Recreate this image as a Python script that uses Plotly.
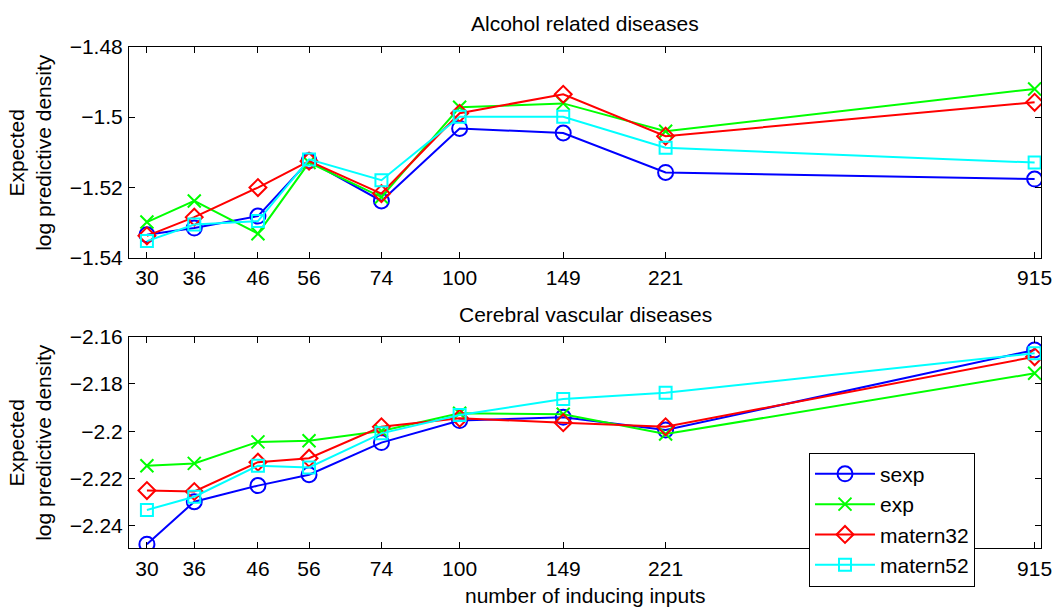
import math
import plotly.graph_objects as go

# ---------------- data ----------------
inducing = [30, 36, 46, 56, 74, 100, 149, 221, 915]
tick_labels_x = ["30", "36", "46", "56", "74", "100", "149", "221", "915"]

series_names = ["sexp", "exp", "matern32", "matern52"]

alcohol_sexp = [-1.5334, -1.5315, -1.5281, -1.5124, -1.5238, -1.5032, -1.5045, -1.5157, -1.5176]
alcohol_exp = [-1.5298, -1.5238, -1.5331, -1.5129, -1.5227, -1.4972, -1.4961, -1.5040, -1.4920]
alcohol_matern32 = [-1.5337, -1.5284, -1.5200, -1.5125, -1.5217, -1.4989, -1.4935, -1.5054, -1.4958]
alcohol_matern52 = [-1.5352, -1.5305, -1.5295, -1.5120, -1.5179, -1.4999, -1.4999, -1.5087, -1.5129]

cerebral_sexp = [-2.2478, -2.2298, -2.2230, -2.2184, -2.2048, -2.1955, -2.1941, -2.1995, -2.1656]
cerebral_exp = [-2.2146, -2.2136, -2.2045, -2.2040, -2.1999, -2.1924, -2.1928, -2.2012, -2.1755]
cerebral_matern32 = [-2.2251, -2.2255, -2.2131, -2.2114, -2.1981, -2.1945, -2.1964, -2.1981, -2.1685]
cerebral_matern52 = [-2.2333, -2.2277, -2.2146, -2.2153, -2.2009, -2.1931, -2.1864, -2.1837, -2.1670]

top_yticks = [-1.54, -1.52, -1.5, -1.48]
top_ytick_labels = ["\u22121.54", "\u22121.52", "\u22121.5", "\u22121.48"]
bottom_yticks = [-2.24, -2.22, -2.2, -2.18, -2.16]
bottom_ytick_labels = ["\u22122.24", "\u22122.22", "\u22122.2", "\u22122.18", "\u22122.16"]

title_top = "Alcohol related diseases"
title_bottom = "Cerebral vascular diseases"
x_title = "number of inducing inputs"
y_title = "Expected<br>log predictive density"

# ---------------- styles ----------------
colors = ["#0000ff", "#00ff00", "#ff0000", "#00ffff"]
symbols = ["circle-open", "x-thin-open", "diamond-open", "square-open"]
sizes = [15, 13, 13, 12]
FONT = "Liberation Sans, Arial, Helvetica, sans-serif"
FS = 21

W, H = 1053, 607

fig = go.Figure()

top_data = [alcohol_sexp, alcohol_exp, alcohol_matern32, alcohol_matern52]
bottom_data = [cerebral_sexp, cerebral_exp, cerebral_matern32, cerebral_matern52]

for i, name in enumerate(series_names):
    fig.add_trace(go.Scatter(
        x=inducing, y=top_data[i], mode="lines+markers", name=name,
        legendgroup=name, showlegend=False,
        line=dict(color=colors[i], width=2),
        marker=dict(symbol=symbols[i], size=sizes[i], color=colors[i],
                    line=dict(color=colors[i], width=2)),
        xaxis="x", yaxis="y"))
for i, name in enumerate(series_names):
    fig.add_trace(go.Scatter(
        x=inducing, y=bottom_data[i], mode="lines+markers", name=name,
        legendgroup=name, showlegend=True,
        line=dict(color=colors[i], width=2),
        marker=dict(symbol=symbols[i], size=sizes[i], color=colors[i],
                    line=dict(color=colors[i], width=2)),
        xaxis="x2", yaxis="y2"))

xdom = [129 / W, 1041 / W]
ydom_top = [1 - 258 / H, 1 - 46.7 / H]
ydom_bot = [1 - 548 / H, 1 - 336.7 / H]
xrange_log = [math.log10(28), math.log10(937.7)]

common_axis = dict(showline=True, linecolor="black", linewidth=1, mirror="ticks",
                   ticks="inside", ticklen=6, tickcolor="black", tickwidth=1,
                   showgrid=False, zeroline=False, automargin=False,
                   tickfont=dict(family=FONT, size=FS, color="black"))

fig.update_layout(
    template="none",
    width=W, height=H,
    margin=dict(l=0, r=0, t=0, b=0, pad=0),
    paper_bgcolor="white", plot_bgcolor="white",
    font=dict(family=FONT, size=FS, color="black"),
    xaxis=dict(domain=xdom, type="log", range=xrange_log, tickmode="array",
               tickvals=inducing, ticktext=tick_labels_x, anchor="y",
               ticklabelstandoff=1, **common_axis),
    yaxis=dict(domain=ydom_top, range=[-1.54, -1.48], tickmode="array",
               tickvals=top_yticks, ticktext=top_ytick_labels, anchor="x",
               ticklabelstandoff=1, **common_axis),
    xaxis2=dict(domain=xdom, type="log", range=xrange_log, tickmode="array",
                tickvals=inducing, ticktext=tick_labels_x, anchor="y2",
                ticklabelstandoff=2, **common_axis),
    yaxis2=dict(domain=ydom_bot, range=[-2.2494, -2.16], tickmode="array",
                tickvals=bottom_yticks, ticktext=bottom_ytick_labels, anchor="x2",
                ticklabelstandoff=1, **common_axis),
    legend=dict(x=809 / W, y=1 - 452.7 / H, xanchor="left", yanchor="top",
                bgcolor="white", bordercolor="black", borderwidth=1,
                font=dict(family=FONT, size=FS, color="black"),
                itemwidth=60, tracegroupgap=0),
    annotations=[
        dict(text=title_top, x=(xdom[0] + xdom[1]) / 2, y=1 - 23 / H, xref="paper", yref="paper",
             showarrow=False, xanchor="center", yanchor="middle",
             font=dict(family=FONT, size=FS, color="black")),
        dict(text=title_bottom, x=(xdom[0] + xdom[1]) / 2, y=1 - 314 / H, xref="paper", yref="paper",
             showarrow=False, xanchor="center", yanchor="middle",
             font=dict(family=FONT, size=FS, color="black")),
        dict(text=x_title, x=(xdom[0] + xdom[1]) / 2, y=1 - 595 / H, xref="paper", yref="paper",
             showarrow=False, xanchor="center", yanchor="middle",
             font=dict(family=FONT, size=FS, color="black")),
        dict(text=y_title, x=30.5 / W, y=(ydom_top[0] + ydom_top[1]) / 2, xref="paper", yref="paper",
             showarrow=False, xanchor="center", yanchor="middle", textangle=-90,
             font=dict(family=FONT, size=FS, color="black")),
        dict(text=y_title, x=30.5 / W, y=(ydom_bot[0] + ydom_bot[1]) / 2, xref="paper", yref="paper",
             showarrow=False, xanchor="center", yanchor="middle", textangle=-90,
             font=dict(family=FONT, size=FS, color="black")),
    ],
)

fig.write_html("out.html",
               config={"displayModeBar": False},
               post_script="document.body.style.margin='0px';document.body.style.padding='0px';")
